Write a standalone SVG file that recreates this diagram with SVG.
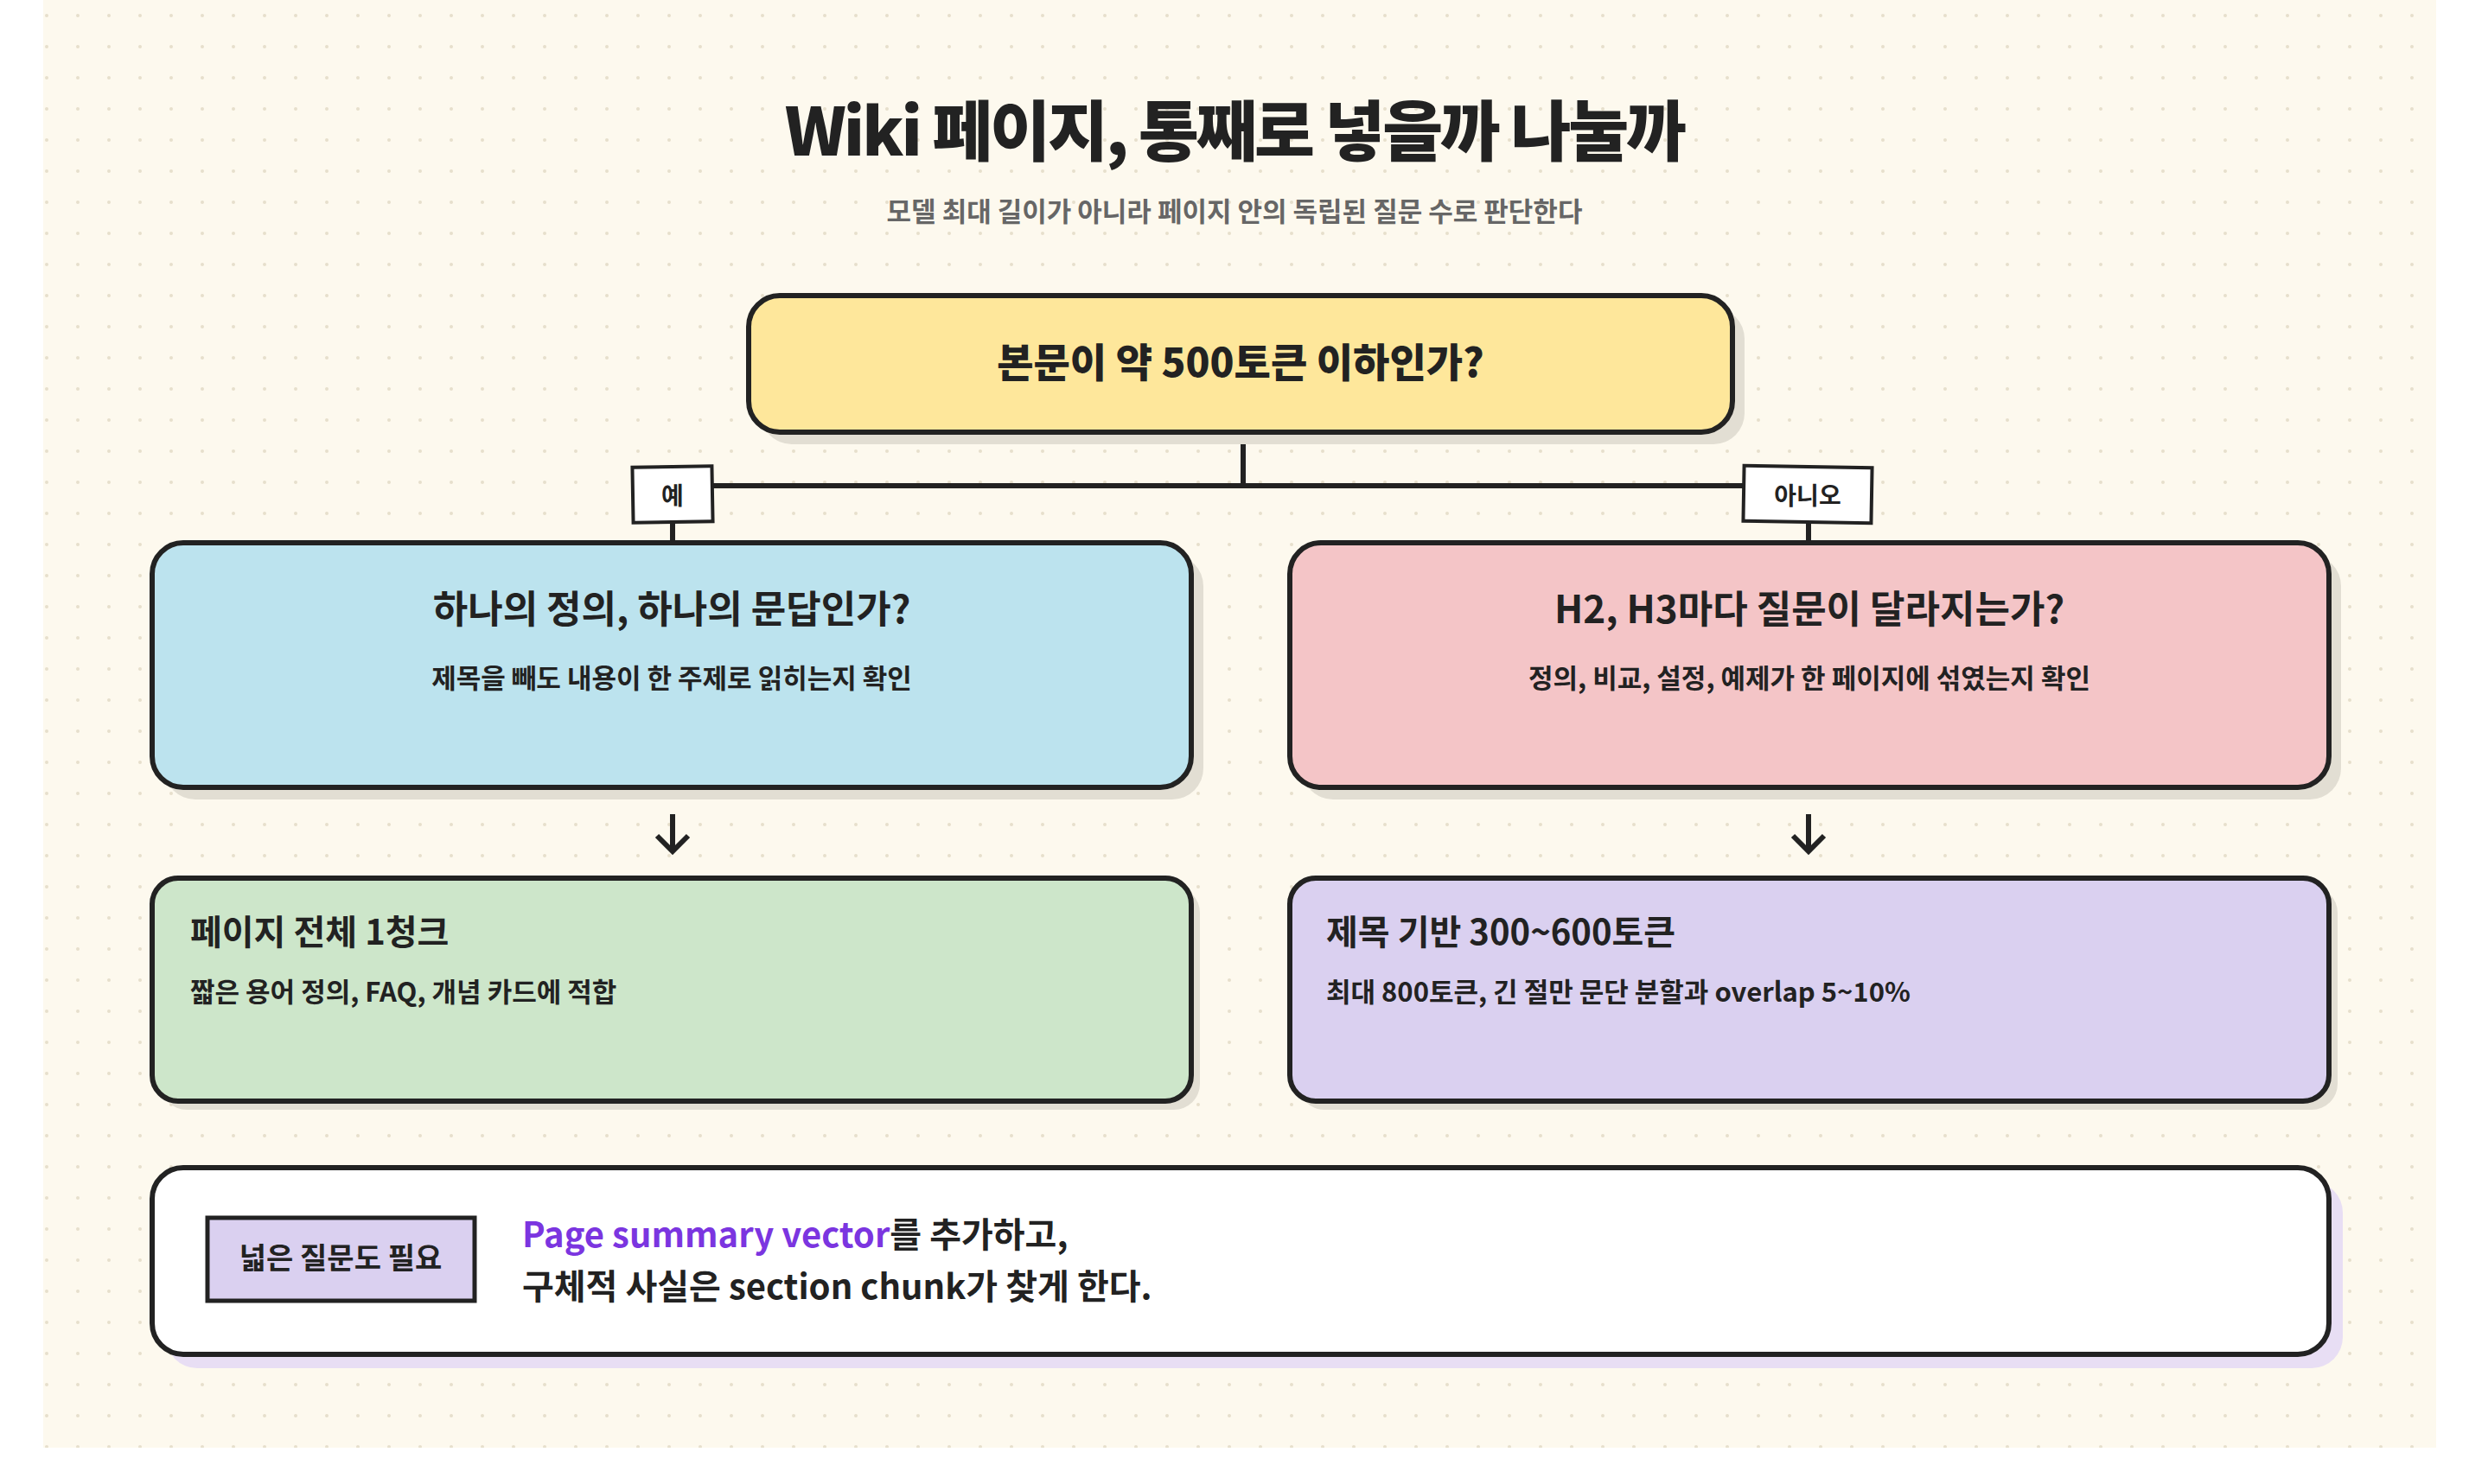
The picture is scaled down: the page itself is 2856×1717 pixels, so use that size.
<svg xmlns="http://www.w3.org/2000/svg" width="2856" height="1717" viewBox="0 0 2856 1717">
<defs>
<pattern id="dots" width="36" height="36" patternUnits="userSpaceOnUse"><circle cx="18" cy="18" r="2" fill="#e6dfcc"/></pattern>
<style>
.t{font-family:"Noto Sans CJK KR","Noto Sans",sans-serif;fill:#222;}
.box{stroke:#222;stroke-width:6;}
.sh{fill:#e2ded3;}
.ln{stroke:#222;stroke-width:6;fill:none;}
</style>
</defs>
<rect width="2856" height="1717" fill="#ffffff"/>
<rect x="50" y="0" width="2768" height="1675" fill="#fdf9ee"/>
<rect x="50" y="0" width="2768" height="1675" fill="url(#dots)"/>
<text class="t" x="1428" y="180" font-size="76" font-weight="900" text-anchor="middle" letter-spacing="-3">Wiki 페이지, 통째로 넣을까 나눌까</text>
<text class="t" x="1428" y="256" font-size="31" font-weight="700" text-anchor="middle" fill="#666" style="fill:#666">모델 최대 길이가 아니라 페이지 안의 독립된 질문 수로 판단한다</text>
<g id="connectors">
<path class="ln" d="M1438 500V562M778 562H2092M778 604V628M2092 604V628"/>
<path class="ln" d="M778 942V985M760 967L778 985L796 967"/>
<path class="ln" d="M2092 942V985M2074 967L2092 985L2110 967"/>
</g>
<g id="top">
<rect class="sh" x="880" y="356" width="1138" height="158" rx="36"/>
<rect class="box" x="866" y="342" width="1138" height="158" rx="36" fill="#fee79b"/>
<text class="t" x="1435" y="436" font-size="46" font-weight="800" text-anchor="middle">본문이 약 500토큰 이하인가?</text>
</g>
<g id="yes"><rect x="732" y="540" width="92" height="64" fill="#fff" stroke="#222" stroke-width="4" transform="rotate(-1 778 572)"/><text class="t" x="778" y="584" font-size="28" font-weight="700" text-anchor="middle">예</text></g>
<g id="no"><rect x="2017" y="540" width="148" height="64" fill="#fff" stroke="#222" stroke-width="4" transform="rotate(1 2091 572)"/><text class="t" x="2091" y="584" font-size="28" font-weight="700" text-anchor="middle">아니오</text></g>
<g id="left">
<rect class="sh" x="190" y="642" width="1202" height="283" rx="36"/>
<rect class="box" x="176" y="628" width="1202" height="283" rx="36" fill="#bce3ee"/>
<text class="t" x="777" y="721" font-size="44" font-weight="700" text-anchor="middle">하나의 정의, 하나의 문답인가?</text>
<text class="t" x="777" y="796" font-size="31" font-weight="700" text-anchor="middle">제목을 빼도 내용이 한 주제로 읽히는지 확인</text>
</g>
<g id="right">
<rect class="sh" x="1506" y="642" width="1202" height="283" rx="36"/>
<rect class="box" x="1492" y="628" width="1202" height="283" rx="36" fill="#f4c5c7"/>
<text class="t" x="2093" y="721" font-size="44" font-weight="700" text-anchor="middle">H2, H3마다 질문이 달라지는가?</text>
<text class="t" x="2093" y="796" font-size="31" font-weight="700" text-anchor="middle">정의, 비교, 설정, 예제가 한 페이지에 섞였는지 확인</text>
</g>
<g id="green">
<rect class="sh" x="186" y="1026" width="1202" height="258" rx="30"/>
<rect class="box" x="176" y="1016" width="1202" height="258" rx="30" fill="#cde6ca"/>
<text class="t" x="220" y="1093" font-size="40" font-weight="700">페이지 전체 1청크</text>
<text class="t" x="220" y="1159" font-size="31" font-weight="700">짧은 용어 정의, FAQ, 개념 카드에 적합</text>
</g>
<g id="purple">
<rect class="sh" x="1502" y="1026" width="1202" height="258" rx="30"/>
<rect class="box" x="1492" y="1016" width="1202" height="258" rx="30" fill="#dad0f0"/>
<text class="t" x="1534" y="1093" font-size="40" font-weight="700">제목 기반 300~600토큰</text>
<text class="t" x="1534" y="1159" font-size="31" font-weight="700">최대 800토큰, 긴 절만 문단 분할과 overlap 5~10%</text>
</g>
<g id="bottom">
<rect x="192" y="1367" width="2518" height="216" rx="36" fill="#e8def4"/>
<rect class="box" x="176" y="1351" width="2518" height="216" rx="36" fill="#fff"/>
<rect x="240" y="1409" width="309" height="96" fill="#dad0f0" stroke="#222" stroke-width="5"/>
<text class="t" x="394" y="1468" font-size="34" font-weight="700" text-anchor="middle">넓은 질문도 필요</text>
<text class="t" x="604" y="1443" font-size="40" font-weight="700"><tspan style="fill:#7b35e0">Page summary vector</tspan>를 추가하고,</text>
<text class="t" x="604" y="1503" font-size="40" font-weight="700">구체적 사실은 section chunk가 찾게 한다.</text>
</g>
</svg>
